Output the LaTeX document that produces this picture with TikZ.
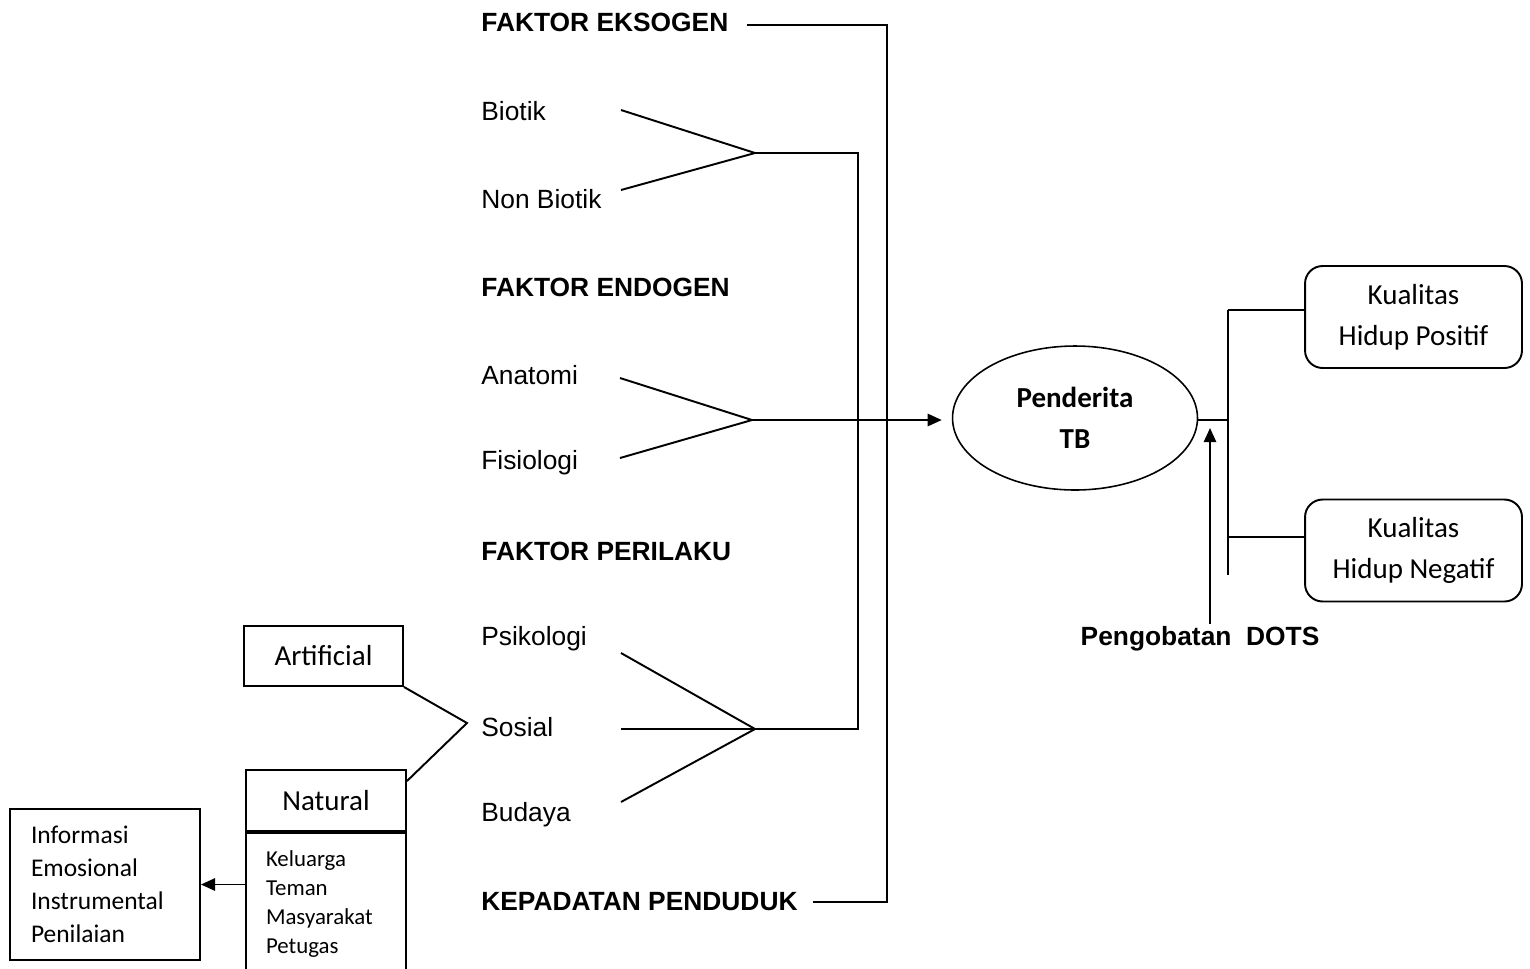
\documentclass[tikz,border=0pt]{standalone}
\usepackage{fontspec}
\setmainfont{Liberation Sans}
\newfontfamily\calibri{Carlito}
\usetikzlibrary{arrows.meta,positioning,shapes.geometric}
\tikzset{
  factor/.style={anchor=west,inner sep=0pt,font=\fontsize{15}{18}\selectfont\bfseries},
  item/.style={anchor=west,inner sep=0pt,font=\fontsize{15}{18}\selectfont},
  link/.style={line width=1.1pt},
  flow/.style={-{Triangle[length=8pt,width=7pt]},line width=1.1pt},
  outcome/.style={draw,rounded corners=10pt,line width=1.1pt,align=center,
    minimum width=4.34cm,minimum height=2.04cm,
    font=\calibri\fontsize{16.5}{23.5}\selectfont},
  patient/.style={ellipse,draw,line width=0.9pt,align=center,
    minimum width=4.9cm,minimum height=2.88cm,
    font=\calibri\fontsize{16.5}{23}\selectfont\bfseries},
  support/.style={draw,line width=1.1pt,
    font=\calibri\fontsize{16.5}{20}\selectfont},
  listbox/.style={draw,line width=1.1pt,align=left,
    font=\calibri\fontsize{13}{16.5}\selectfont}
}
\begin{document}
\begin{tikzpicture}[x=0.02cm,y=-0.02cm]
  \useasboundingbox (0,0) rectangle (1530,968);
  % faktor
  \node[factor] (eksogen) at (481,22) {FAKTOR EKSOGEN};
  \node[item] (biotik) at (481,111) {Biotik};
  \node[item] (nonbiotik) at (481,199) {Non Biotik};
  \node[factor] (endogen) at (481,287) {FAKTOR ENDOGEN};
  \node[item] (anatomi) at (481,375) {Anatomi};
  \node[item] (fisiologi) at (481,463) {Fisiologi};
  \node[factor] (perilaku) at (481,551) {FAKTOR PERILAKU};
  \node[item] (psikologi) at (481,639) {Psikologi};
  \node[item] (sosial) at (481,727) {Sosial};
  \node[item] (budaya) at (481,815) {Budaya};
  \node[factor] (kepadatan) at (481,902) {KEPADATAN PENDUDUK};
  % fork points
  \coordinate (bio1) at (621,110);
  \coordinate (bio2) at (621,190);
  \coordinate (ana1) at (620,378);
  \coordinate (ana2) at (620,458);
  \coordinate (psy1) at (621,653);
  \coordinate (psy2) at (621,729);
  \coordinate (psy3) at (621,802);
  \coordinate (jbio) at (755,153);
  \coordinate (jana) at (752,420);
  \coordinate (jpsy) at (755,729);
  \coordinate (bustop) at (858,153);
  \coordinate (busbot) at (858,729);
  \coordinate (outtop) at (887,25);
  \coordinate (outbot) at (887,902);
  \draw[link] (bio1) -- (jbio) -- (bio2);
  \draw[link] (ana1) -- (jana) -- (ana2);
  \draw[link] (psy1) -- (jpsy) -- (psy3);
  \draw[link] (psy2) -- (jpsy);
  \draw[link] (jbio) -- (bustop) -- (busbot) -- (jpsy);
  \draw[link] ([xshift=0.36cm]eksogen.east |- outtop) -- (outtop) -- (outbot)
    -- ([xshift=0.3cm]kepadatan.east |- outbot);
  % penderita
  \node[patient] (tb) at (1075,418) {Penderita\\TB};
  \draw[flow,shorten >=0.2cm] (jana) -- (jana -| tb.west);
  \node[outcome] (pos) at (1413.5,317) {Kualitas\\Hidup Positif};
  \node[outcome] (neg) at (1413.5,550.5) {Kualitas\\Hidup Negatif};
  \coordinate (rbus) at (1228,420);
  \coordinate (rtop) at (1228,310);
  \coordinate (rneg) at (1228,537);
  \coordinate (rbot) at (1228,575);
  \draw[link] (rbus -| tb.east) -- (rbus);
  \draw[link] (rtop) -- (rbot);
  \draw[link] (rtop) -- (rtop -| pos.west);
  \draw[link] (rneg) -- (rneg -| neg.west);
  \node[factor,anchor=center] (dots) at (1200,639) {Pengobatan\ \ DOTS};
  \coordinate (dotsend) at (1210,428);
  \draw[flow] ([xshift=0.2cm,yshift=0.05cm]dots.north) -- (dotsend);
  % dukungan sosial
  \node[support,minimum width=3.18cm,minimum height=1.2cm] (artificial)
    at (323.5,656) {Artificial};
  \node[support,minimum width=3.2cm,minimum height=1.22cm] (natural)
    at (326,800.5) {Natural};
  \node[listbox,anchor=north,minimum width=3.2cm,minimum height=2.84cm,
    text width=2.4cm,inner xsep=0.4cm] (natlist) at (natural.south)
    {Keluarga\\Teman\\Masyarakat\\Petugas};
  \coordinate (sj) at (467,723);
  \draw[link] (artificial.south east) -- (sj) -- ([yshift=-0.24cm]natural.north east);
  \node[listbox,minimum width=3.8cm,minimum height=3.02cm,text width=2.96cm,
    inner xsep=0.42cm,font=\calibri\fontsize{14.5}{18.7}\selectfont] (info)
    at (105,884.5) {Informasi\\Emosional\\Instrumental\\Penilaian};
  \draw[flow] (natlist.west |- info.east) -- (info.east);
\end{tikzpicture}
\end{document}
